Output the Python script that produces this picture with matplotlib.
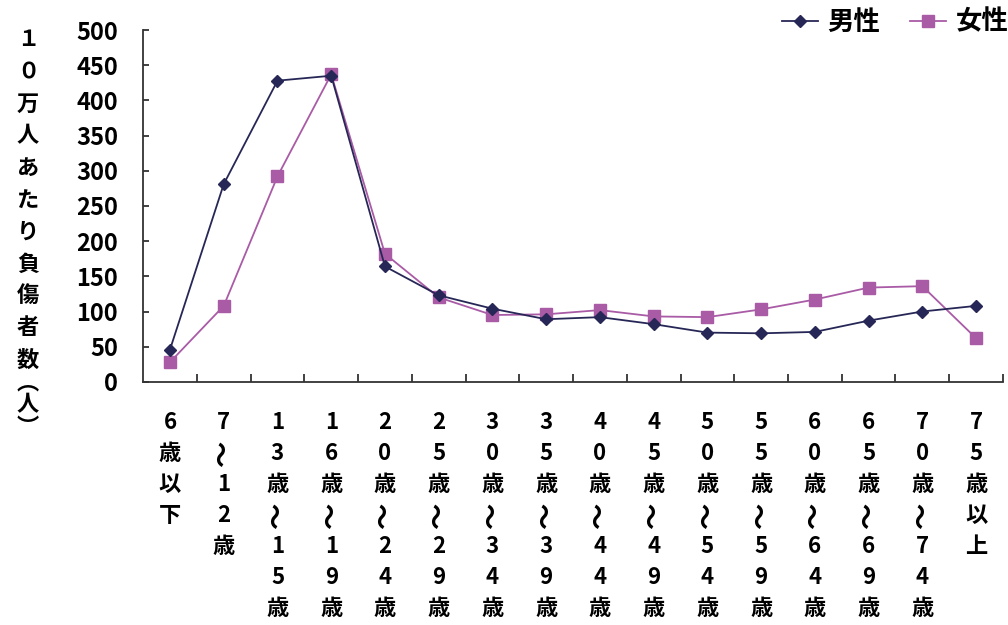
import matplotlib
matplotlib.use("Agg")
import matplotlib.pyplot as plt
import numpy as np

plt.rcParams['font.family'] = ['Noto Sans CJK JP', 'DejaVu Sans']

# Age groups, written one character per row under the axis ("〜" turns sideways)
age_groups = [
    "6歳以下", "7〜12歳", "13歳〜15歳", "16歳〜19歳", "20歳〜24歳", "25歳〜29歳",
    "30歳〜34歳", "35歳〜39歳", "40歳〜44歳", "45歳〜49歳", "50歳〜54歳",
    "55歳〜59歳", "60歳〜64歳", "65歳〜69歳", "70歳〜74歳", "75歳以上",
]
# Injuries per 100,000 people
male = [46, 281, 428, 435, 164, 123, 104, 89, 92, 82, 70, 69, 71, 87, 100, 108]
female = [28, 108, 292, 437, 182, 120, 95, 96, 102, 93, 92, 103, 117, 134, 136, 62]
y_ticks = [0, 50, 100, 150, 200, 250, 300, 350, 400, 450, 500]
y_label_main = "１０万人あたり負傷者数"
y_label_unit = "︵人︶"

male_color = "#272757"
female_color = "#A95BA6"

W, H = 1008, 625
fig = plt.figure(figsize=(W / 100, H / 100), dpi=100)
ax = fig.add_axes([0.142, 0.389, 0.853, 0.563])

x = np.arange(len(age_groups))
ax.plot(x, male, color=male_color, lw=1.3, marker="D", ms=6.5,
        label="男性", zorder=3)
ax.plot(x, female, color=female_color, lw=1.3, marker="s", ms=9,
        label="女性", zorder=2)

ax.set_xlim(-0.5, len(age_groups) - 0.5)
ax.set_ylim(0, 500)
ax.set_yticks(y_ticks)
ax.set_yticklabels([str(v) for v in y_ticks], fontsize=17, fontweight="bold")

ax.set_xticks([])
ax.set_xticks(np.arange(len(age_groups)) + 0.5, minor=True)
ax.tick_params(axis="x", which="minor", direction="in", length=6,
               width=1.3, color="#333333", labelbottom=False)
ax.tick_params(axis="y", direction="in", length=4.5, width=1.3,
               color="#333333", pad=18)

for side in ("top", "right"):
    ax.spines[side].set_visible(False)
for side in ("left", "bottom"):
    ax.spines[side].set_linewidth(1.3)
    ax.spines[side].set_color("#333333")

# Vertical category labels: one character per row below each point
row_step = 22.3   # points between rows
first_row = 29.5  # points below the x axis
for xi, label in zip(x, age_groups):
    for r, ch in enumerate(label):
        wave = ch == "〜"
        ax.annotate(ch, xy=(xi, 0), xycoords=("data", "axes fraction"),
                    xytext=(0, -(first_row + r * row_step)),
                    textcoords="offset points", ha="center", va="center",
                    fontsize=19 if wave else 16, fontweight="bold",
                    rotation=90 if wave else 0,
                    annotation_clip=False)

# Vertical y-axis title: full-width rows, then the bracketed unit in tighter rows
y_px = 40.0
for ch in y_label_main:
    fig.text(28 / W, 1 - y_px / H, ch, ha="center", va="center",
             fontsize=16, fontweight="bold")
    y_px += 32
for ch, pos in zip(y_label_unit, (383, 405, 427)):
    fig.text(28 / W, 1 - pos / H, ch, ha="center", va="center",
             fontsize=16, fontweight="bold")

fig.legend(loc="upper right", bbox_to_anchor=(1.024, 1.024), ncol=2,
           frameon=False, handlelength=1.4, columnspacing=1.1,
           handletextpad=0.35, prop={"size": 19, "weight": "bold"})

fig.savefig("out.png", dpi=100)
